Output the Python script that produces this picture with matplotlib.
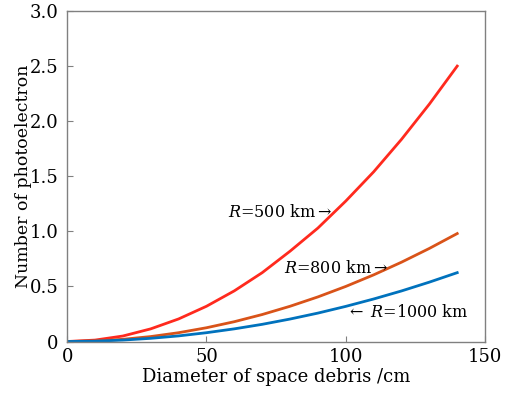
import matplotlib
matplotlib.use("Agg")
import matplotlib.pyplot as plt

diameter = [0, 10, 20, 30, 40, 50, 60, 70, 80, 90, 100, 110, 120, 130, 140]
r500 = [0, 0.013, 0.05, 0.115, 0.205, 0.32, 0.46, 0.625, 0.82, 1.03, 1.275, 1.54, 1.835, 2.155, 2.5]
r800 = [0, 0.005, 0.02, 0.045, 0.08, 0.125, 0.18, 0.245, 0.32, 0.405, 0.5, 0.605, 0.72, 0.845, 0.98]
r1000 = [0, 0.003, 0.013, 0.029, 0.051, 0.08, 0.115, 0.156, 0.204, 0.258, 0.319, 0.386, 0.459, 0.539, 0.625]

xticks = [0, 50, 100, 150]
xticklabels = ['0', '50', '100', '150']
yticks = [0, 0.5, 1.0, 1.5, 2.0, 2.5, 3.0]
yticklabels = ['0', '0.5', '1.0', '1.5', '2.0', '2.5', '3.0']

plt.rcParams['font.family'] = ['DejaVu Serif']
plt.rcParams['mathtext.fontset'] = 'dejavuserif'

fig = plt.figure(figsize=(5.09, 3.93), dpi=100)
ax = fig.add_axes([0.132, 0.131, 0.821, 0.841])

ax.plot(diameter, r500, color='#FF2A1E', lw=2)
ax.plot(diameter, r800, color='#D95319', lw=2)
ax.plot(diameter, r1000, color='#0072BD', lw=2)

ax.set_xlim(0, 150)
ax.set_ylim(0, 3.0)
ax.set_xticks(xticks)
ax.set_xticklabels(xticklabels)
ax.set_yticks(yticks)
ax.set_yticklabels(yticklabels)
ax.tick_params(direction='in', length=4, labelsize=13, color='#808080')
ax.tick_params(axis='y', pad=6)
ax.tick_params(axis='x', pad=5)
for s in ax.spines.values():
    s.set_color('#808080')
    s.set_linewidth(1)

ax.set_xlabel('Diameter of space debris /cm', fontsize=13, labelpad=1)
ax.set_ylabel('Number of photoelectron', fontsize=12.5, labelpad=-1.5)

ax.text(95, 1.17, r'$R$=500 km$\rightarrow$', fontsize=11.5, ha='right', va='center')
ax.text(115, 0.66, r'$R$=800 km$\rightarrow$', fontsize=11.5, ha='right', va='center')
ax.text(100, 0.26, r'$\leftarrow$ $R$=1000 km', fontsize=11.5, ha='left', va='center')

fig.savefig('out.png', dpi=100)
